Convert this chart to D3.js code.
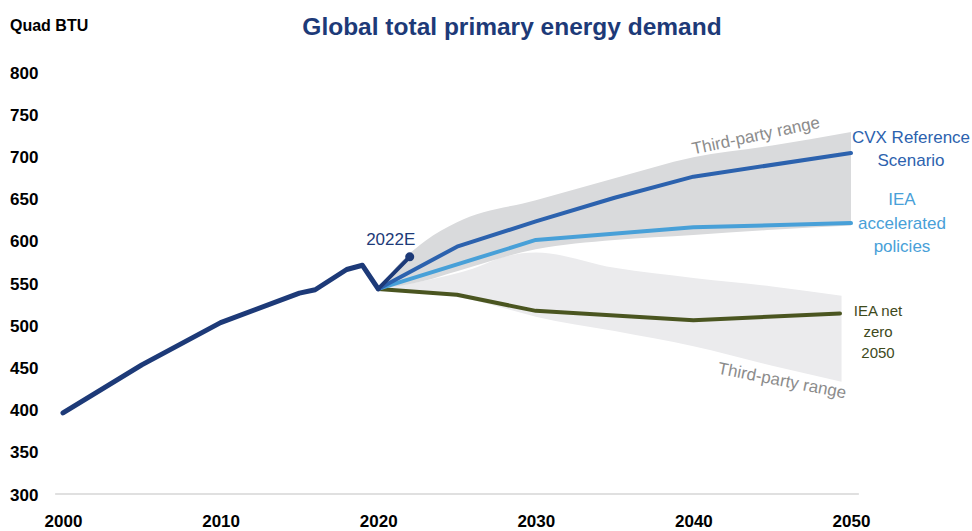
<!DOCTYPE html>
<html>
<head>
<meta charset="utf-8">
<script src="https://cdn.jsdelivr.net/npm/d3@7"></script>
<style>
  html, body { margin: 0; padding: 0; background: #ffffff; }
  svg { display: block; font-family: "Liberation Sans", Arial, sans-serif; }
</style>
</head>
<body>
<svg id="chart" width="972" height="531"></svg>
<script>
// ---- Data ----
const histYears = [2000, 2005, 2010, 2015, 2016, 2018, 2019, 2020];
const histValues = [396, 453, 503, 538, 542, 566, 571, 543];

const estYears = [2020, 2022];
const estValues = [543, 581];

const cvxYears = [2020, 2025, 2030, 2035, 2040, 2050];
const cvxValues = [543, 593, 623, 651, 676, 704];

const ieaAccYears = [2020, 2030, 2040, 2050];
const ieaAccValues = [543, 601, 616, 621];

const ieaNzYears = [2020, 2025, 2030, 2040, 2049.3];
const ieaNzValues = [543, 536, 517, 506, 514];

const upperBandYears = [2020, 2021.5, 2023, 2025, 2030, 2035, 2040, 2045, 2050];
const upperBandHigh = [543, 576, 600, 622, 648, 674, 699, 713, 729];
const upperBandLow  = [543, 547, 553, 564, 590, 601, 607, 613, 618];

const lowerBandYears = [2020, 2023, 2026, 2028, 2030, 2035, 2040, 2045, 2049.4];
const lowerBandHigh = [543, 553, 567, 581, 586, 568, 556, 546, 535];
const lowerBandLow  = [543, 538, 530, 520, 510, 493, 475, 452, 433];

const xTicks = [2000, 2010, 2020, 2030, 2040, 2050];
const yTicks = [300, 350, 400, 450, 500, 550, 600, 650, 700, 750, 800];

const titleText = "Global total primary energy demand";
const unitText = "Quad BTU";
const estLabel = "2022E";
const rangeLabel = "Third-party range";
const cvxLabel = ["CVX Reference", "Scenario"];
const ieaAccLabel = ["IEA", "accelerated", "policies"];
const ieaNzLabel = ["IEA net", "zero", "2050"];

// ---- Styles ----
const navy = "#1d3a78";
const cvxColor = "#2c62ae";
const ieaColor = "#48a0d8";
const nzColor = "#4a5520";
const nzText = "#3e4a1c";
const upperFill = "#d9dadc";
const lowerFill = "#ebebed";
const rangeText = "#8c8c8c";

const svg = d3.select("#chart");

const x = d3.scaleLinear().domain([2000, 2050]).range([63, 851]);
const y = d3.scaleLinear().domain([300, 800]).range([494, 72]);

// Title
svg.append("text")
  .attr("x", 512).attr("y", 35)
  .attr("text-anchor", "middle")
  .attr("font-size", 24.5).attr("font-weight", "bold")
  .attr("fill", navy)
  .text(titleText);

svg.append("text")
  .attr("x", 10).attr("y", 31)
  .attr("font-size", 16).attr("font-weight", "bold")
  .attr("fill", "#000")
  .text(unitText);

// Y axis (labels only, left aligned)
const yAxis = svg.append("g")
  .attr("transform", "translate(10,0)")
  .call(d3.axisLeft(y).tickValues(yTicks).tickSize(0).tickPadding(0));
yAxis.select(".domain").remove();
yAxis.selectAll("text")
  .attr("x", 0).attr("dy", "0.36em")
  .attr("text-anchor", "start")
  .attr("font-size", 17).attr("font-weight", "bold")
  .attr("font-family", "Liberation Sans, Arial, sans-serif")
  .attr("fill", "#000");

// X axis
const xAxis = svg.append("g")
  .attr("transform", `translate(0,${y(300)})`)
  .call(d3.axisBottom(x).tickValues(xTicks).tickFormat(d3.format("d")).tickSize(0).tickPadding(0));
xAxis.select(".domain").remove();
xAxis.selectAll("text")
  .attr("y", 33).attr("dy", 0)
  .attr("font-size", 17).attr("font-weight", "bold")
  .attr("font-family", "Liberation Sans, Arial, sans-serif")
  .attr("fill", "#000");

// baseline
svg.append("line")
  .attr("x1", x(1999.5)).attr("x2", x(2050.5))
  .attr("y1", y(300)).attr("y2", y(300))
  .attr("stroke", "#d6d6d6").attr("stroke-width", 1.5);

// Bands
const zip = (xs, hi, lo) => xs.map((d, i) => ({ year: d, hi: hi[i], lo: lo[i] }));
const area = d3.area()
  .x(d => x(d.year)).y0(d => y(d.lo)).y1(d => y(d.hi))
  .curve(d3.curveMonotoneX);

svg.append("path")
  .datum(zip(lowerBandYears, lowerBandHigh, lowerBandLow))
  .attr("d", area).attr("fill", lowerFill);

svg.append("path")
  .datum(zip(upperBandYears, upperBandHigh, upperBandLow))
  .attr("d", area).attr("fill", upperFill);

// Lines
const pts = (xs, vs) => xs.map((d, i) => ({ year: d, v: vs[i] }));
const line = d3.line().x(d => x(d.year)).y(d => y(d.v));

function drawLine(xs, vs, color, w) {
  svg.append("path")
    .datum(pts(xs, vs))
    .attr("d", line)
    .attr("fill", "none")
    .attr("stroke", color)
    .attr("stroke-width", w)
    .attr("stroke-linecap", "round")
    .attr("stroke-linejoin", "round");
}

drawLine(ieaNzYears, ieaNzValues, nzColor, 4);
drawLine(ieaAccYears, ieaAccValues, ieaColor, 4);
drawLine(cvxYears, cvxValues, cvxColor, 4);
drawLine(histYears, histValues, navy, 5);
drawLine(estYears, estValues, navy, 4);

svg.append("circle")
  .attr("cx", x(estYears[1])).attr("cy", y(estValues[1]))
  .attr("r", 4.5).attr("fill", navy);

// Labels
svg.append("text")
  .attr("x", x(estYears[1]) - 19).attr("y", y(estValues[1]) - 12)
  .attr("text-anchor", "middle")
  .attr("font-size", 17).attr("fill", navy)
  .text(estLabel);

svg.append("text")
  .attr("transform", "translate(757,141) rotate(-12)")
  .attr("text-anchor", "middle")
  .attr("font-size", 17).attr("fill", rangeText)
  .text(rangeLabel);

svg.append("text")
  .attr("transform", "translate(781,386) rotate(11)")
  .attr("text-anchor", "middle")
  .attr("font-size", 17).attr("fill", rangeText)
  .text(rangeLabel);

function multiLabel(lines, cx, firstCenterY, lh, size, color) {
  const t = svg.append("text")
    .attr("text-anchor", "middle")
    .attr("font-size", size).attr("fill", color);
  lines.forEach((s, i) => {
    t.append("tspan")
      .attr("x", cx)
      .attr("y", firstCenterY + i * lh)
      .attr("dy", "0.36em")
      .text(s);
  });
}

multiLabel(cvxLabel, 911, 137, 23, 17, cvxColor);
multiLabel(ieaAccLabel, 902, 199, 23.5, 17, ieaColor);
multiLabel(ieaNzLabel, 878, 311, 21, 15, nzText);
</script>
</body>
</html>
